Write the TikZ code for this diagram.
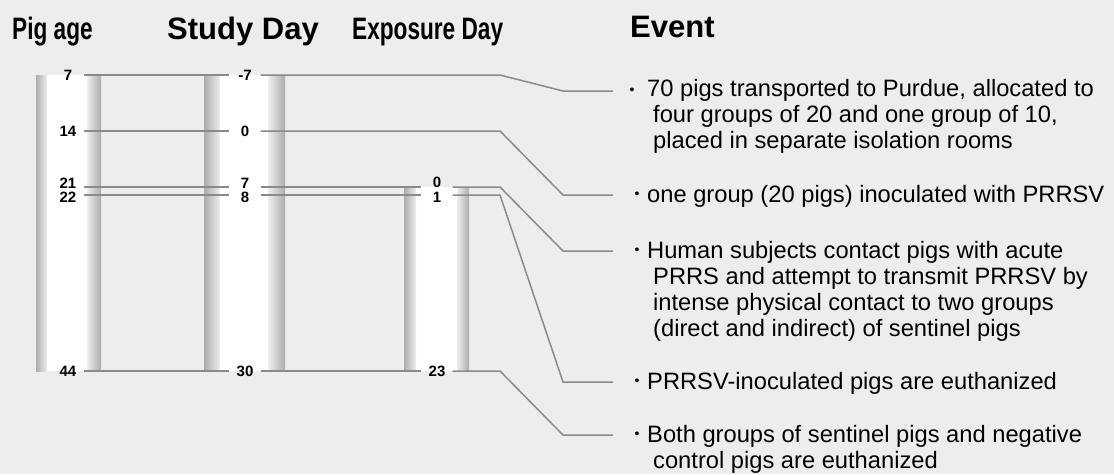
\documentclass[tikz,border=0pt]{standalone}
\usepackage{fontspec}
\setmainfont{Liberation Sans}
\newfontfamily\condfont{Liberation Sans}[FakeStretch=0.73]
\usetikzlibrary{calc, math}
\definecolor{bggray}{RGB}{237,237,237}
\definecolor{linegray}{RGB}{138,138,138}
\definecolor{stripdark}{RGB}{172,172,172}
\definecolor{striplight}{RGB}{238,238,238}

\tikzset{
  tick/.style={font=\bfseries\fontsize{15}{15}\selectfont, inner sep=0pt,
    minimum width=31pt, text height=11pt, text depth=0pt},
  conn/.style={draw=linegray, line width=1.5pt},
  evt/.style={font=\fontsize{23.7}{26}\selectfont, align=left, inner sep=0pt, anchor=base west},
  dot/.style={font=\fontsize{14}{14}\selectfont, inner sep=0pt},
  head/.style={font=\bfseries\fontsize{31}{31}\selectfont, inner sep=0pt, anchor=base west},
}

% one time bar: outer left, white left, white right, outer right, top
\newcommand{\timebar}[5]{%
  \fill[white] (#2,#5) rectangle (#3,371);
  \shade[left color=stripdark, right color=striplight] (#1,#5) rectangle (#2,371);
  \shade[left color=striplight, right color=stripdark] (#3,#5) rectangle (#4,371);
}
\newcommand{\nl}{\\\hspace*{6pt}}

\begin{document}
\begin{tikzpicture}[x=1pt, y=-1pt]
\tikzmath{
\ya=91; \yb=195; \yc=251; \yd=382; \ye=435;
}

\fill[bggray] (0,0) rectangle (1114,474);
\useasboundingbox (0,0) rectangle (1114,474);

\node[head, font=\condfont\bfseries\fontsize{31}{31}\selectfont] (hpig) at (12,39) {Pig age};
\node[head] (hstudy) at (167,39) {Study Day};
\node[head, font=\condfont\bfseries\fontsize{31}{31}\selectfont] (hexp) at (352,39) {Exposure Day};
\node[head] (hevent) at (630,37) {Event};

\timebar{36}{47}{87}{101}{75}
\timebar{204}{220}{268}{285}{75}
\timebar{404}{416}{457}{469}{187}

% day marks
\node[tick] (pa7) at (68,75) {7};
\node[tick] (pa14) at (68,131) {14};
\node[tick] (pa21) at (68,187) {\raisebox{4pt}{21}};
\node[tick] (pa22) at (68,195) {\raisebox{-1.5pt}{22}};
\node[tick] (pa44) at (68,371) {44};

\node[tick] (sdm7) at (245,75) {-7};
\node[tick] (sd0) at (245,131) {0};
\node[tick] (sd7) at (245,187) {\raisebox{4pt}{7}};
\node[tick] (sd8) at (245,195) {\raisebox{-1.5pt}{8}};
\node[tick] (sd30) at (245,371) {30};

\node[tick] (ed0) at (437,187) {\raisebox{5pt}{0}};
\node[tick] (ed1) at (437,195) {\raisebox{-2pt}{1}};
\node[tick] (ed23) at (437,371) {23};

% events (base = last line)
\coordinate (bend) at (500,0);
\coordinate (knee) at (563,0);
\coordinate (t1) at (613,\ya);
\coordinate (t2) at (613,\yb);
\coordinate (t3) at (613,\yc);
\coordinate (t4) at (613,\yd);
\coordinate (t5) at (613,\ye);

\node[dot] (b1) at (632,\ya) {•};
\node[dot] (b2) at (637,\yb) {•};
\node[dot] (b3) at (637,\yc) {•};
\node[dot] (b4) at (637,\yd) {•};
\node[dot] (b5) at (637,\ye) {•};

\node[evt] (ev1) at (647,\ya+5+52) {70 pigs transported to Purdue, allocated to\nl four groups of 20 and one group of 10,\nl placed in separate isolation rooms};
\node[evt] (ev2) at (647,\yb+7) {one group (20 pigs) inoculated with PRRSV};
\node[evt] (ev3) at (647,\yc+7+78) {Human subjects contact pigs with acute\nl PRRS and attempt to transmit PRRSV by\nl intense physical contact to two groups\nl (direct and indirect) of sentinel pigs};
\node[evt] (ev4) at (647,\yd+7) {PRRSV-inoculated pigs are euthanized};
\node[evt] (ev5) at (647,\ye+7+26) {Both groups of sentinel pigs and negative\nl control pigs are euthanized};

% connectors
\draw[conn] (pa7) -- (sdm7);
\draw[conn] (pa14) -- (sd0);
\draw[conn] (pa21) -- (sd7);
\draw[conn] (pa22) -- (sd8);
\draw[conn] (pa44) -- (sd30);
\draw[conn] (sd7) -- (ed0);
\draw[conn] (sd8) -- (ed1);
\draw[conn] (sd30) -- (ed23);

\draw[conn] (sdm7) -- (sdm7 -| bend) -- (t1 -| knee) -- (t1);
\draw[conn] (sd0) -- (sd0 -| bend) -- (t2 -| knee) -- (t2);
\draw[conn] (ed0) -- (ed0 -| bend) -- (t3 -| knee) -- (t3);
\draw[conn] (ed1) -- (ed1 -| bend) -- (t4 -| knee) -- (t4);
\draw[conn] (ed23) -- (ed23 -| bend) -- (t5 -| knee) -- (t5);

\end{tikzpicture}
\end{document}
